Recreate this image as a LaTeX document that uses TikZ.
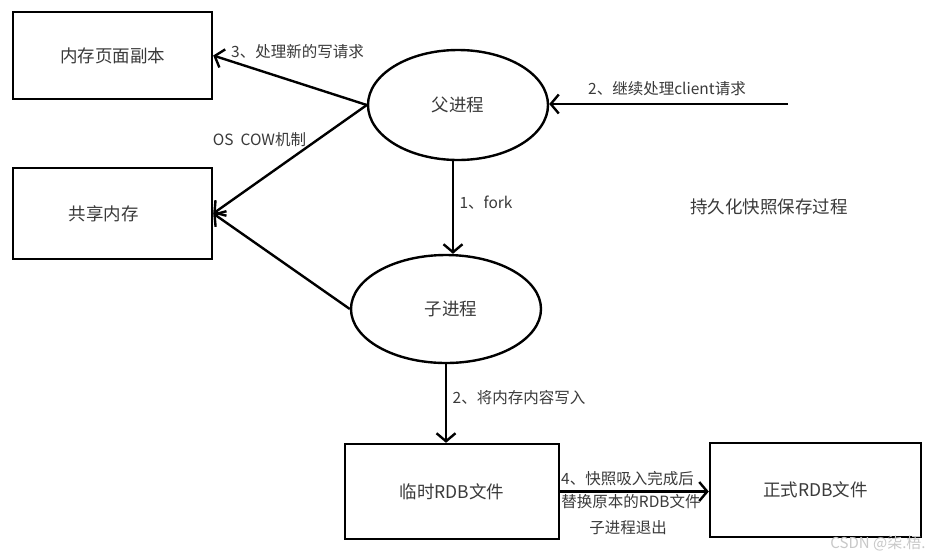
\documentclass[tikz,border=0pt]{standalone}
\usepackage{fontspec}
\setmainfont{Noto Sans CJK SC}
\usetikzlibrary{arrows.meta,shapes.geometric,calc}
\definecolor{txt}{HTML}{3A3A3A}
\definecolor{wm}{HTML}{C8C8C8}
\begin{document}
\begin{tikzpicture}[x=1pt,y=-1pt,
  box/.style={draw=black,line width=2.4pt,rectangle,inner sep=0pt,
    font=\fontsize{17.5}{20}\selectfont,text=txt},
  proc/.style={draw=black,line width=2.4pt,ellipse,inner sep=0pt,
    font=\fontsize{17.5}{20}\selectfont,text=txt},
  arr/.style={line width=2.4pt,-{Straight Barb[length=8pt,width=19pt]}},
  lbl/.style={font=\fontsize{15.5}{18}\selectfont,text=txt,inner sep=0pt},
  ttl/.style={font=\fontsize{17.5}{20}\selectfont,text=txt,inner sep=0pt}]
\useasboundingbox[fill=white] (0,0) rectangle (939,558);

% nodes
\node[box,minimum width=199pt,minimum height=87pt] (m1) at (112.5,55.5) {内存页面副本};
\node[box,minimum width=199pt,minimum height=91pt] (sh) at (112.5,213.5) {\hspace*{-18pt}共享内存};
\node[proc,minimum width=180pt,minimum height=110pt] (p) at (458,105) {父进程};
\node[proc,minimum width=190pt,minimum height=108pt] (c) at (446,309) {\hspace*{10pt}子进程};
\node[box,minimum width=214pt,minimum height=95pt] (t) at (452,491.5) {临时RDB文件};
\node[box,minimum width=211pt,minimum height=94pt] (f) at (815.5,490) {正式RDB文件};

% free ends
\coordinate (cl) at (788,104);
\coordinate (fk) at (453,0);

% connectors
\draw[arr] (p.west) -- (m1.east);
\draw[arr] (p.west) -- (sh.east);
\draw[arr] (c.west) -- (sh.east);
\draw[arr] (cl) -- (cl -| p.east);
\draw[arr] (fk |- p.south) -- (fk |- c.north);
\draw[arr] (c.south) -- (c.south |- t.north);
\draw[arr] (t.east) -- (t.east -| f.west);

% labels
\node[lbl] (l3) at (297.5,52) {3、处理新的写请求};
\node[lbl] (lcow) at (259.5,140) {OS\ \ COW机制};
\node[lbl] (l2a) at (667,89) {2、继续处理client请求};
\node[lbl] (l1) at (486,203) {1、fork};
\node[lbl] (l2b) at (519,398) {2、将内存内容写入};
\node[lbl] (l4a) at (627.5,479) {4、快照吸入完成后};
\node[lbl] (l4b) at (631,502) {替换原本的RDB文件};
\node[lbl] (l4c) at (628,528) {子进程退出};
\node[ttl] (title) at (769,207) {持久化快照保存过程};
\node[lbl,text=wm,font=\fontsize{15}{18}\selectfont] (wmk) at (878,543) {CSDN @柒.梧.};
\end{tikzpicture}
\end{document}
